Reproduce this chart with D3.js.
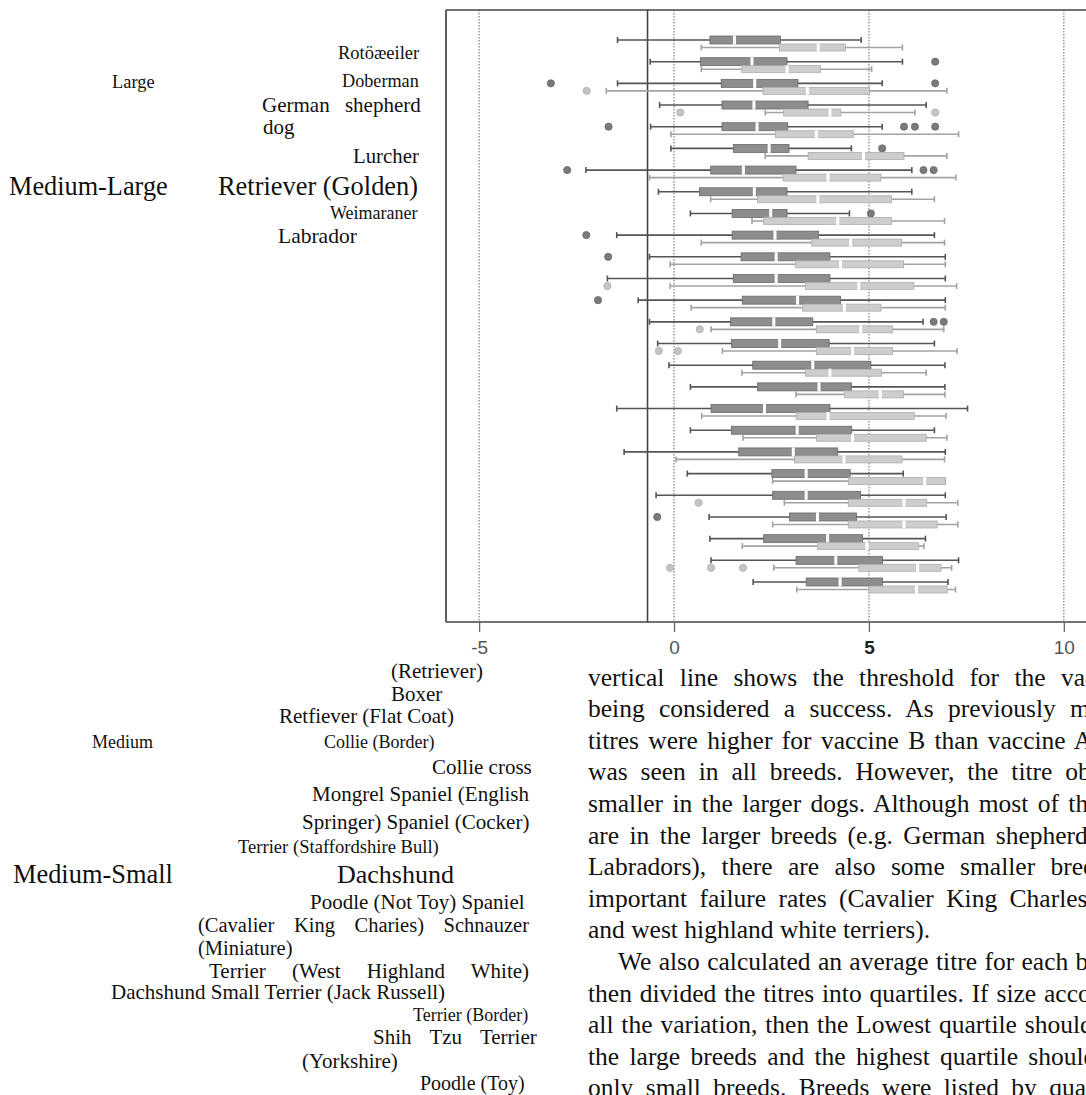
<!DOCTYPE html>
<html><head><meta charset="utf-8">
<script src="https://cdn.jsdelivr.net/npm/d3@7"></script>
<style>
html,body{margin:0;padding:0;background:#fff;}
svg{display:block;}
</style></head>
<body>
<svg id="chart" width="1086" height="1095"></svg>
<script>
// ---------- DATA ----------
const breeds = ["Rottweiler","Doberman","German shepherd dog","Lurcher","Retriever (Golden)","Weimaraner",
  "Labrador (Retriever)","Boxer","Retriever (Flat Coat)","Collie (Border)","Collie cross","Mongrel",
  "Spaniel (English Springer)","Spaniel (Cocker)","Terrier (Staffordshire Bull)","Dachshund","Poodle (Not Toy)",
  "Spaniel (Cavalier King Charles)","Schnauzer (Miniature)","Terrier (West Highland White)","Dachshund Small",
  "Terrier (Jack Russell)","Terrier (Border)","Shih Tzu","Terrier (Yorkshire)","Poodle (Toy)"];
// [low whisker, Q1, median, Q3, high whisker]
const vaccineA = [
  [-1.45,0.92,1.55,2.73,4.8],[-0.61,0.68,2.0,2.9,5.86],[-1.45,1.21,2.07,3.18,5.34],[-0.37,1.23,2.05,3.44,6.47],
  [-0.6,1.23,2.13,2.92,5.34],[-0.08,1.52,2.44,2.95,4.55],[-2.26,0.94,1.78,3.13,6.1],[-0.4,0.65,2.06,2.9,6.1],
  [0.42,1.49,2.48,2.9,4.5],[-1.47,1.49,2.59,3.71,6.68],[-0.63,1.72,2.62,4.0,6.96],[-1.71,1.52,2.62,4.0,6.96],
  [-0.92,1.75,3.17,4.27,6.96],[-0.63,1.45,2.56,3.56,6.39],[-0.42,1.47,2.71,3.98,6.68],[-0.13,2.02,3.56,5.05,6.95],
  [0.42,2.14,3.72,4.55,6.95],[-1.47,0.95,2.32,4.0,7.53],[0.42,1.47,3.16,4.56,6.68],[-1.28,1.66,3.06,4.2,6.96],
  [0.34,2.51,3.39,4.52,5.88],[-0.46,2.53,3.39,4.79,6.96],[0.9,2.96,3.68,4.68,6.98],[0.92,2.3,3.94,4.84,6.45],
  [0.95,3.13,4.15,5.35,7.3],[2.03,3.39,4.26,5.35,7.03]];
const vaccineB = [
  [0.7,2.7,3.7,4.4,5.86],[0.7,1.74,2.9,3.76,5.07],[-1.74,2.28,3.42,5.02,7.0],[2.34,2.81,4.0,4.28,6.18],
  [-0.08,2.6,3.65,4.6,7.3],[2.34,3.44,4.86,5.9,7.0],[-0.63,2.8,3.95,5.31,7.23],[0.94,2.14,3.69,5.58,6.68],
  [2.0,2.3,4.2,5.58,6.94],[0.7,3.53,4.53,5.84,6.94],[-0.1,3.11,4.27,5.89,6.96],[-0.1,3.37,4.74,6.15,7.25],
  [0.44,3.3,4.37,5.31,6.96],[0.95,3.65,4.79,5.61,6.92],[1.24,3.65,4.58,5.61,7.26],[1.74,3.37,4.0,5.32,6.47],
  [3.13,4.37,5.29,5.89,6.95],[0.71,3.13,3.95,6.16,6.98],[1.77,3.65,4.58,6.47,7.0],[0.05,3.09,4.36,5.85,6.94],
  [2.53,4.47,6.43,6.96,6.96],[2.83,4.47,5.9,6.48,7.28],[2.53,4.47,5.9,6.75,7.28],[1.75,3.68,4.95,6.27,6.41],
  [2.56,4.74,6.25,6.85,7.12],[3.15,5.0,6.22,7.01,7.22]];
// outliers: [row index, value]
const outliersA = [[1,6.7],[2,-3.16],[2,6.7],[4,-1.68],[4,5.9],[4,6.18],[4,6.7],[5,5.34],[6,-2.74],[6,6.4],[6,6.66],
  [8,5.05],[9,-2.25],[10,-1.69],[12,-1.95],[13,6.66],[13,6.92],[22,-0.43]];
const outliersB = [[2,-2.24],[3,0.16],[3,6.7],[11,-1.71],[13,0.66],[14,-0.39],[14,0.1],[21,0.63],[24,-0.1],[24,0.95],[24,1.77]];
const tickValues = [-5,0,5,10];
const threshold = -0.68;

const leftTexts = ["Rotöæeiler","Large","Doberman","German  shepherd","dog","Lurcher","Medium-Large","Retriever (Golden)",
  "Weimaraner","Labrador","(Retriever)","Boxer","Retfiever (Flat Coat)","Medium","Collie (Border)","Collie cross",
  "Mongrel Spaniel (English","Springer) Spaniel (Cocker)","Terrier (Staffordshire Bull)","Medium-Small","Dachshund",
  "Poodle (Not Toy) Spaniel","(Cavalier King Charies) Schnauzer","(Miniature)","Terrier (West Highland White)",
  "Dachshund Small Terrier (Jack Russell)","Terrier (Border)","Shih Tzu Terrier","(Yorkshire)","Poodle (Toy)"];
const paragraphLines = ["vertical line shows the threshold for the vaccine",
  "being considered a success. As previously mentioned,",
  "titres were higher for vaccine B than vaccine A; this",
  "was seen in all breeds. However, the titre observed was",
  "smaller in the larger dogs. Although most of the failures",
  "are in the larger breeds (e.g. German shepherd dogs and",
  "Labradors), there are also some smaller breeds with",
  "important failure rates (Cavalier King Charles spaniels",
  "and west highland white terriers).",
  "We also calculated an average titre for each breed and",
  "then divided the titres into quartiles. If size accounted for",
  "all the variation, then the Lowest quartile should contain",
  "the large breeds and the highest quartile should contain",
  "only small breeds. Breeds were listed by quartile"];

// ---------- LAYOUT ----------
// [x, y-centre, font-size, word-spacing]
const leftLayout = [[338,53,18.5,0],[112,82,18.4,0],[342,82,18.2,0],[262,106,21,10],[263,128,21,0],[353,157,20.8,0],
  [9,187,26.3,0],[218,187,26.4,0],[330,214,18,0],[278,237,21.5,0],[391,672,21,0],[391,695,21,0],[279,717,21,0],
  [92,743,18,0],[324,743,18,0],[432,768,21,0],[312,795,21,0],[302,823,21,0],[238,847,18.6,0],[13,875,26.4,0],
  [337,875,26,0],[310,903,21,0],[198,926,20.5,14.5],[198,949,20.5,0],[209,972,21,21],[111,993,21,0],[413,1016,18,0],
  [373,1038,21,13],[302,1062,21,0],[420,1084,20,0]];
const paraX = 588, paraY0 = 678, paraStep = 31.6, paraFont = 25.5;
const paraWS = [9,8,3,6.5,3,4,9,6,0,1,1.5,1.5,4,6];
const paraIndent = [0,0,0,0,0,0,0,0,0,30,0,0,0,0];

const svg = d3.select("#chart");
const x = d3.scaleLinear().domain([-5.85, 10.8]).range([446, 1095]);
const y = d3.scalePoint().domain(breeds).range([44, 586]);
const topY = 10, bottomY = 622;

// gridlines
svg.append("g").selectAll("line").data(tickValues).join("line")
  .attr("x1", d => x(d)).attr("x2", d => x(d)).attr("y1", topY).attr("y2", bottomY)
  .attr("stroke", "#8a8a8a").attr("stroke-width", 1.3).attr("stroke-dasharray", "1.5,1.5");
// threshold
svg.append("line").attr("x1", x(threshold)).attr("x2", x(threshold)).attr("y1", topY).attr("y2", bottomY)
  .attr("stroke", "#444").attr("stroke-width", 1.6);
// frame
svg.append("line").attr("x1", 446).attr("x2", 446).attr("y1", topY).attr("y2", bottomY).attr("stroke", "#333").attr("stroke-width", 1.6);
svg.append("line").attr("x1", 446).attr("x2", 1086).attr("y1", topY).attr("y2", topY).attr("stroke", "#444").attr("stroke-width", 1.6);
svg.append("line").attr("x1", 446).attr("x2", 1086).attr("y1", bottomY).attr("y2", bottomY).attr("stroke", "#444").attr("stroke-width", 1.6);

// axis
const axis = svg.append("g").attr("transform", `translate(0,${bottomY})`)
  .call(d3.axisBottom(x).tickValues(tickValues).tickSize(10).tickPadding(9).tickFormat(d3.format("d")));
axis.select(".domain").remove();
axis.selectAll(".tick line").attr("stroke", "#666").attr("stroke-width", 1.3);
axis.selectAll(".tick text").attr("font-family", "Liberation Sans, Arial, sans-serif").attr("font-size", 19)
  .text(d => d < 0 ? "-" + Math.abs(d) : d)
  .attr("font-weight", d => d === 5 ? "bold" : "normal").attr("fill", d => d === 5 ? "#222" : "#555");

// boxes
const series = [
  {data: vaccineA, out: outliersA, off: -4, h: 8, fill: "#8d8d8d", stroke: "#6a6a6a", wh: "#555", of: "#7a7a7a"},
  {data: vaccineB, out: outliersB, off: 3.5, h: 7, fill: "#cdcdcd", stroke: "#adadad", wh: "#a3a3a3", of: "#c4c4c4"}
];
series.forEach(s => {
  const g = svg.append("g");
  const rows = g.selectAll("g").data(s.data).join("g")
    .attr("transform", (d, i) => `translate(0,${y(breeds[i]) + s.off})`);
  rows.append("line").attr("x1", d => x(d[0])).attr("x2", d => x(d[4])).attr("y1", 0).attr("y2", 0)
    .attr("stroke", s.wh).attr("stroke-width", 1.6);
  rows.append("line").attr("x1", d => x(d[0])).attr("x2", d => x(d[0])).attr("y1", -3).attr("y2", 3)
    .attr("stroke", s.wh).attr("stroke-width", 1.6);
  rows.append("line").attr("x1", d => x(d[4])).attr("x2", d => x(d[4])).attr("y1", -3).attr("y2", 3)
    .attr("stroke", s.wh).attr("stroke-width", 1.6);
  rows.append("rect").attr("x", d => x(d[1])).attr("width", d => x(d[3]) - x(d[1]))
    .attr("y", -s.h / 2).attr("height", s.h).attr("fill", s.fill).attr("stroke", s.stroke).attr("stroke-width", 0.8);
  rows.append("rect").attr("x", d => x(d[2]) - 1.5).attr("width", 3)
    .attr("y", -s.h / 2 - 0.5).attr("height", s.h + 1).attr("fill", "#fff");
  g.selectAll("circle").data(s.out).join("circle")
    .attr("cx", d => x(d[1])).attr("cy", d => y(breeds[d[0]]) + s.off).attr("r", 3.6)
    .attr("fill", s.of).attr("stroke", s.stroke).attr("stroke-width", 0.8);
});

// left text block
svg.append("g").selectAll("text").data(leftTexts).join("text")
  .attr("x", (d, i) => leftLayout[i][0]).attr("y", (d, i) => leftLayout[i][1] + leftLayout[i][2] * 0.3)
  .attr("font-size", (d, i) => leftLayout[i][2]).attr("word-spacing", (d, i) => leftLayout[i][3])
  .attr("font-family", "Liberation Serif, Times New Roman, serif").attr("fill", "#111")
  .text(d => d);

// paragraph
svg.append("g").selectAll("text").data(paragraphLines).join("text")
  .attr("x", (d, i) => paraX + paraIndent[i]).attr("y", (d, i) => paraY0 + i * paraStep + paraFont * 0.3)
  .attr("font-size", paraFont).attr("word-spacing", (d, i) => paraWS[i])
  .attr("font-family", "Liberation Serif, Times New Roman, serif").attr("fill", "#111")
  .text(d => d);
</script>
</body></html>
